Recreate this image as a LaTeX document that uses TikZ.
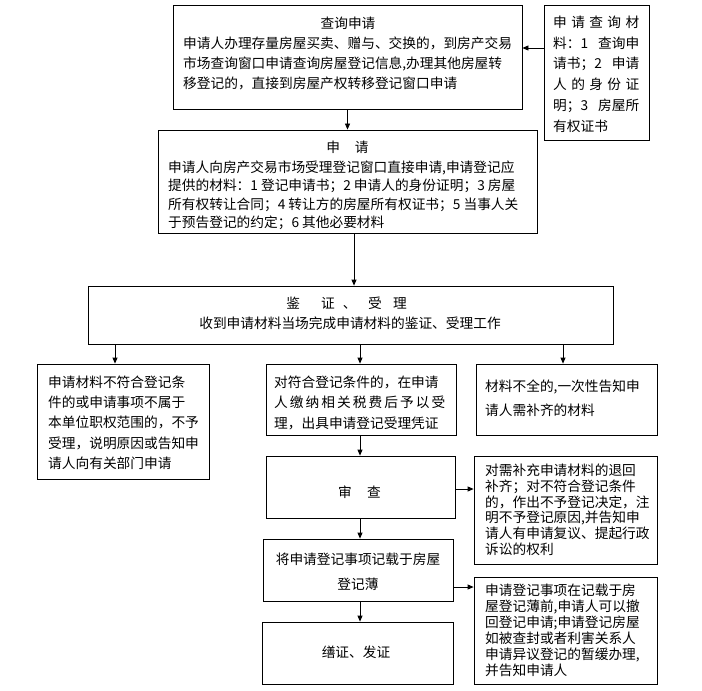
\documentclass[tikz,border=0pt]{standalone}
\usepackage{fontspec}
\setmainfont{Noto Sans CJK SC}
\usetikzlibrary{arrows.meta}
\begin{document}
\begin{tikzpicture}[x=1bp,y=-1bp,
  box/.style={draw, line width=0.8bp, inner sep=0pt, rectangle},
  txt/.style={inner sep=0pt, anchor=north west, align=left},
  ctxt/.style={inner sep=0pt, anchor=center},
  arr/.style={-{Triangle[length=6bp,width=5bp]}, line width=0.8bp},
  every node/.append style={font=\fontsize{13.7bp}{20bp}\selectfont}]
\useasboundingbox[fill=white] (0,0) rectangle (702,691);

% boxes
\node[box, minimum width=349bp, minimum height=104bp] (b1) at (347.5,57) {};
\node[box, minimum width=105bp, minimum height=135bp] (rb) at (596.5,72.5) {};
\node[box, minimum width=379bp, minimum height=103bp] (b2) at (347.5,181.5) {};
\node[box, minimum width=525bp, minimum height=58bp] (b3) at (350.5,315) {};
\node[box, minimum width=172bp, minimum height=115bp] (b4) at (123,421.5) {};
\node[box, minimum width=190bp, minimum height=71bp] (b5) at (361,399.5) {};
\node[box, minimum width=181bp, minimum height=71bp] (b6) at (566.5,399.5) {};
\node[box, minimum width=189bp, minimum height=62bp] (b7) at (360.5,487) {};
\node[box, minimum width=183bp, minimum height=108bp] (b8) at (565.5,510) {};
\node[box, minimum width=190bp, minimum height=62bp] (b9) at (358,570) {};
\node[box, minimum width=183bp, minimum height=107bp] (b10) at (565.5,630.5) {};
\node[box, minimum width=191bp, minimum height=62bp] (b11) at (357.5,653) {};

% texts
\node[ctxt] (t1a) at (348,23) {查询申请};
\node[txt, font=\fontsize{13.7bp}{20bp}\selectfont] (t1b) at (183,36.5) {申请人办理存量房屋买卖、赠与、交换的，到房产交易\\市场查询窗口申请查询房屋登记信息,办理其他房屋转\\移登记的，直接到房屋产权转移登记窗口申请};
\node[txt, font=\fontsize{13.7bp}{20.8bp}\selectfont] (trb) at (553,15.5) {\makebox[86bp][s]{申 请 查 询 材}\\\makebox[86bp][s]{料：1 查询申}\\\makebox[86bp][s]{请书；2 申请}\\\makebox[86bp][s]{人 的 身 份 证}\\\makebox[86bp][s]{明；3 房屋所}\\有权证书};
\node[ctxt] (t2a) at (347.5,147) {申\hspace{15bp}请};
\node[txt, font=\fontsize{13.7bp}{18.4bp}\selectfont] (t2b) at (168,160.5) {申请人向房产交易市场受理登记窗口直接申请,申请登记应\\提供的材料：1 登记申请书；2 申请人的身份证明；3 房屋\\所有权转让合同；4 转让方的房屋所有权证书；5 当事人关\\于预告登记的约定；6 其他必要材料};
\node[ctxt] (t3a) at (346.6,303) {鉴\hspace{21bp}证\hspace{8bp}、\hspace{11.6bp}受\hspace{11.3bp}理};
\node[ctxt] (t3b) at (350,323) {收到申请材料当场完成申请材料的鉴证、受理工作};
\node[txt, font=\fontsize{13.7bp}{20.3bp}\selectfont] (t4) at (48,375.5) {申请材料不符合登记条\\件的或申请事项不属于\\本单位职权范围的，不予\\受理，说明原因或告知申\\请人向有关部门申请};
\node[txt, font=\fontsize{13.7bp}{20.5bp}\selectfont] (t5) at (274,375.5) {对符合登记条件的，在申请\\\makebox[164.4bp][s]{人 缴 纳 相 关 税 费 后 予 以 受}\\理，出具申请登记受理凭证};
\node[txt, font=\fontsize{13.7bp}{24bp}\selectfont] (t6) at (485,379.5) {材料不全的,一次性告知申\\请人需补齐的材料};
\node[ctxt] (t7) at (359.5,492) {审\hspace{15.3bp}查};
\node[txt, font=\fontsize{13.7bp}{15.65bp}\selectfont] (t8) at (485,464.2) {对需补充申请材料的退回\\补齐；对不符合登记条件\\的，作出不予登记决定，注\\明不予登记原因,并告知申\\请人有申请复议、提起行政\\诉讼的权利};
\node[inner sep=0pt, anchor=north, align=center, font=\fontsize{13.7bp}{25bp}\selectfont] (t9) at (358,552.5) {将申请登记事项记载于房屋\\登记薄};
\node[txt, font=\fontsize{13.7bp}{16bp}\selectfont] (t10) at (485,583.5) {申请登记事项在记载于房\\屋登记薄前,申请人可以撤\\回登记申请;申请登记房屋\\如被查封或者利害关系人\\申请异议登记的暂缓办理,\\并告知申请人};
\node[ctxt] (t11) at (356,652) {缮证、发证};

% connectors
\draw[arr] (rb.west |- 0,48) -- (b1.east |- 0,48);
\draw[arr] (b1.south) -- (b2.north);
\draw[arr] (b2.south -| 354,0) -- (b3.north -| 354,0);
\draw[arr] (b3.south -| 115,0) -- (b4.north -| 115,0);
\draw[arr] (b3.south -| 360,0) -- (b5.north -| 360,0);
\draw[arr] (b3.south -| 563,0) -- (b6.north -| 563,0);
\draw[arr] (b5.south -| 360,0) -- (b7.north -| 360,0);
\draw[arr] (b7.east |- 0,489) -- (b8.west |- 0,489);
\draw[arr] (b7.south -| 360,0) -- (b9.north -| 360,0);
\draw[arr] (b9.east |- 0,587) -- (b10.west |- 0,587);
\draw[arr] (b9.south -| 360,0) -- (b11.north -| 360,0);
\end{tikzpicture}
\end{document}
